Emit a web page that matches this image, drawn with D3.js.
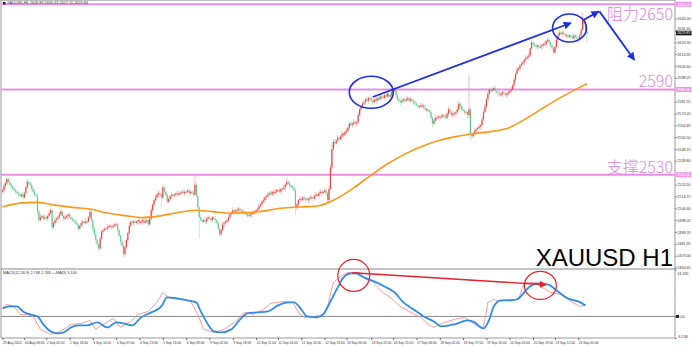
<!DOCTYPE html>
<html>
<head>
<meta charset="utf-8">
<script src="https://cdn.jsdelivr.net/npm/d3@7"></script>
<style>
  body { margin: 0; background: #fff; }
  svg { display: block; font-family: 'Liberation Sans', Arial, sans-serif; }
</style>
</head>
<body>
<div id="chart"></div>
<script>
// XAUUSD H1 closes, one per bar (open = previous close)
const firstOpen = 2518;
const closes = [
  2519,2522,2524,2527,2525,2523,2522,2520,2519,2518,
  2517,2516,2515,2516,2514,2517,2521,2525,2524,2523,
  2520,2518,2516,2515,2504,2498,2500,2501,2499,2500,
  2499,2501,2503,2505,2493,2496,2498,2499,2500,2502,
  2504,2501,2499,2500,2501,2502,2500,2499,2498,2497,
  2496,2495,2492,2494,2496,2497,2496,2497,2497,2500,
  2504,2498,2492,2488,2484,2481,2478,2485,2490,2491,
  2492,2492,2493,2494,2494,2493,2494,2495,2495,2491,
  2487,2483,2480,2474,2479,2484,2489,2494,2497,2496,
  2497,2496,2497,2498,2496,2497,2498,2496,2497,2498,
  2495,2499,2505,2509,2512,2514,2516,2517,2516,2514,
  2521,2518,2516,2511,2513,2515,2516,2515,2516,2517,
  2516,2517,2517,2518,2517,2518,2518,2519,2517,2518,
  2517,2516,2523,2515,2507,2500,2498,2497,2498,2497,
  2499,2500,2499,2498,2500,2499,2498,2496,2492,2488,
  2491,2495,2496,2497,2498,2500,2502,2503,2505,2504,
  2505,2505,2506,2505,2504,2504,2503,2502,2502,2501,
  2502,2503,2503,2504,2505,2506,2508,2509,2511,2512,
  2514,2515,2516,2517,2516,2518,2517,2518,2519,2519,
  2518,2520,2520,2521,2523,2525,2524,2522,2522,2521,
  2519,2507,2509,2512,2513,2512,2514,2513,2513,2512,
  2513,2514,2514,2513,2515,2516,2515,2517,2518,2517,
  2518,2519,2517,2512,2520,2535,2548,2553,2552,2554,
  2556,2555,2557,2559,2558,2560,2561,2563,2566,2565,
  2566,2567,2566,2567,2572,2576,2578,2580,2581,2583,
  2582,2584,2584,2582,2581,2583,2582,2584,2583,2585,
  2585,2584,2586,2585,2587,2585,2586,2588,2589,2590,
  2586,2583,2582,2581,2582,2583,2582,2583,2584,2582,
  2583,2582,2581,2580,2579,2578,2578,2579,2579,2577,
  2576,2576,2575,2574,2570,2566,2568,2570,2570,2571,
  2570,2571,2572,2571,2570,2573,2576,2574,2572,2573,
  2573,2574,2576,2580,2578,2576,2575,2574,2574,2572,
  2576,2558,2557,2559,2561,2562,2563,2564,2565,2569,
  2574,2578,2583,2587,2590,2589,2590,2591,2589,2588,
  2587,2586,2587,2588,2587,2586,2587,2588,2589,2590,
  2593,2597,2601,2604,2605,2607,2608,2609,2611,2612,
  2613,2614,2619,2623,2622,2621,2620,2621,2620,2620,
  2621,2622,2622,2624,2625,2623,2621,2619,2616,2620,
  2625,2628,2630,2629,2630,2629,2628,2628,2627,2628,
  2627,2626,2628,2627,2626,2625,2628,2632,2639,2636,
  2631,2629
];
// wick length above / below the body, in dollars
const wickUp = [
  1,2,1,1,1,2,1,1,2,1, 1,1,2,1,2,1,1,2,1,1, 1,2,1,1,2,1,2,1,1,2, 1,1,2,2,1,1,2,1,1,2,
  2,1,1,2,1,1,1,2,1,1, 1,2,1,1,2,1,1,2,1,1, 1,2,1,1,2,1,1,2,1,1, 1,1,2,1,1,2,1,1,2,1,
  1,1,1,2,1,1,1,2,1,1, 1,2,1,1,2,1,1,1,2,1, 1,1,2,1,1,2,1,2,1,1, 2,1,1,2,1,1,2,1,1,1,
  2,1,1,1,2,1,1,1,2,1, 1,2,7,2,1,1,2,1,1,2, 1,1,2,1,1,1,2,1,1,1, 1,2,1,1,1,2,1,1,2,1,
  1,2,1,1,1,2,1,1,1,2, 1,1,2,1,1,1,2,1,1,2, 1,1,2,1,2,1,1,2,1,1, 2,1,1,2,1,3,1,2,1,1,
  1,2,1,1,2,1,1,2,1,1, 1,2,1,1,1,2,1,1,2,1, 1,1,2,1,2,2,3,2,2,1, 2,1,1,2,1,1,2,1,1,2,
  1,2,1,1,2,1,1,2,1,1, 2,1,1,2,1,1,2,1,1,2, 1,1,2,1,1,2,1,1,1,2, 1,2,1,1,2,1,1,2,1,1,
  2,1,1,2,1,1,1,2,1,1, 2,1,1,1,2,1,1,2,1,1, 1,2,1,1,2,1,2,1,1,2, 1,1,2,2,1,1,2,1,1,1,
  24,2,1,1,2,1,1,2,1,2, 1,2,1,2,1,2,1,1,2,1, 1,2,1,1,2,1,1,2,1,2, 1,2,1,2,1,1,2,1,1,2,
  1,2,1,2,1,1,2,1,1,2, 1,1,2,1,2,1,1,2,1,1, 2,1,2,1,1,2,1,1,2,1, 1,2,1,1,2,1,1,2,5,2,
  1,2
];
const wickDown = [
  1,1,2,1,1,1,2,1,1,2, 1,2,1,1,2,1,1,1,2,1, 2,1,1,1,2,2,1,1,2,1, 1,2,1,1,2,1,1,2,1,1,
  1,1,2,1,1,2,1,1,1,2, 1,1,2,1,1,2,1,1,2,1, 1,1,2,1,2,1,2,1,1,2, 1,1,2,1,1,2,1,1,1,2,
  1,2,1,2,1,1,2,1,1,1, 2,1,1,2,1,1,2,1,1,1, 2,1,1,2,1,1,1,2,1,7, 1,2,1,2,1,1,2,1,1,2,
  1,1,2,1,1,2,1,1,2,1, 1,2,1,1,2,15,1,2,1,1, 2,1,1,2,1,1,2,1,2,2, 1,1,2,1,1,2,1,1,1,2,
  1,1,2,1,1,2,1,1,2,1, 1,2,1,1,2,1,1,1,2,1, 2,1,1,2,1,1,2,1,1,1, 1,2,1,1,2,1,1,2,1,2,
  1,5,2,1,1,2,1,1,2,1, 2,1,1,2,1,1,2,1,1,2, 1,1,2,2,2,1,2,1,2,1, 1,2,1,1,2,1,1,2,1,1,
  2,1,1,2,1,1,2,1,1,2, 1,2,1,1,2,1,1,2,1,1, 2,1,1,2,1,1,2,1,1,1, 2,1,1,2,1,1,2,1,1,2,
  1,1,2,1,1,2,1,1,2,1, 1,2,1,1,2,3,1,1,2,1, 2,1,1,2,1,1,2,1,1,2, 1,2,1,1,2,1,1,2,1,2,
  2,4,2,1,1,2,1,1,2,1, 1,1,2,1,1,2,1,1,2,1, 2,1,1,2,1,1,2,1,1,2, 1,1,2,1,1,2,1,1,2,1,
  1,2,1,1,2,1,1,2,1,1, 2,1,1,2,1,1,2,1,2,1, 1,2,1,1,2,1,1,2,1,1, 2,1,1,2,1,1,2,1,1,2,
  1,6
];

// orange moving average, sampled at bar indices
const maBars = [0,12,24,36,48,60,72,84,96,108,120,132,144,156,168,180,192,204,216,228,240,252,264,276,288,300,312,324,336,348,360,372,384,396,401];
const maValues = [2507.3,2510,2510.5,2508.6,2507,2505.8,2503,2501.2,2499.8,2501,2503.2,2505,2504,2503,2503.3,2504.5,2506.5,2507.3,2508,2512.5,2520,2529,2537.5,2544.5,2550,2554.2,2557,2559,2560.5,2563.3,2570,2577.7,2585,2591.5,2594];

// MACD pane: thin red = MACD, thick blue = signal
const macdBars = [0,3,8,12,17,21,26,33,38,42,47,54,60,64,69,76,81,88,93,100,106,110,115,122,129,134,138,145,152,159,166,172,179,184,193,199,203,207,214,220,223,227,232,237,245,249,254,260,266,273,280,287,292,296,303,310,317,321,326,330,333,337,340,347,354,358,365,369,376,383,390,396,399];
const macdValues = [2.56,3.41,2.84,0.57,0.57,0,-3.69,-5.11,-4.55,-3.69,-2.27,-1.99,-1.14,-3.69,-2.27,-0.57,-3.13,-1.42,0.57,1.42,3.98,6.82,5.11,4.83,4.26,0.57,-3.69,-4.55,-3.69,-1.70,1.14,0.57,1.99,3.69,4.26,3.98,1.14,-0.28,0,0.57,2.84,9.66,11.36,12.50,12.50,10.51,9.94,7.10,5.40,2.84,1.14,-0.28,-2.27,-3.13,-1.70,-0.85,-0.28,-1.42,-2.84,-3.13,3.98,4.83,4.26,4.83,4.83,9.66,9.66,8.52,6.82,6.25,4.26,2.84,3.13];
const signalBars = [0,5,10,14,19,24,28,33,38,42,47,52,58,65,72,78,83,89,95,102,109,113,120,127,133,136,141,145,150,157,163,168,175,182,189,196,200,205,209,216,220,225,230,234,239,242,248,255,262,269,275,282,289,296,301,310,319,324,328,330,334,337,342,349,354,361,367,374,381,388,395,400];
const signalValues = [2.27,2.84,2.84,1.42,0.57,0,-2.27,-4.26,-4.83,-4.55,-3.13,-2.56,-2.56,-1.70,-3.13,-1.70,-1.99,-2.56,-0.28,1.14,2.84,5.40,5.11,4.55,3.98,1.42,-2.27,-4.26,-4.55,-3.69,-0.85,0.85,1.14,1.42,3.13,3.98,3.98,1.99,0,-0.28,0.57,4.26,8.24,11.08,12.22,12.22,11.08,9.94,8.52,6.82,3.98,1.99,0,-1.42,-2.84,-2.27,-1.14,-1.70,-3.13,-3.41,-0.85,2.84,4.55,4.55,5.11,8.24,9.38,9.09,7.10,5.11,4.26,3.13];

// axis labels
const priceTicks = [2464.65,2473.00,2481.35,2489.70,2498.05,2506.40,2514.75,2523.10,2539.80,2548.15,2556.50,2564.85,2573.20,2581.55,2598.25,2606.60,2614.95,2623.30,2631.65,2640.00];
const levels = [2650, 2590, 2530];
const levelLabels = ['阻力2650', '2590', '支撑2530'];
const lastPrice = 2629.83;
const macdTicks = [13.335, 0, -6.136];
const macdTickLabels = ['13.335', '0.00', '-6.136'];
const timeTickBars = [0,15,30,46,62,78,94,110,126,142,158,174,189,205,221,236,253,268,284,300,316,332,348,364,379,395];
const timeLabels = ['29 Aug 2024','30 Aug 08:00','2 Sep 02:00','2 Sep 18:00','3 Sep 14:00','4 Sep 07:00','4 Sep 23:00','5 Sep 16:00','6 Sep 09:00','9 Sep 02:00','9 Sep 18:00','10 Sep 11:00','11 Sep 04:00','11 Sep 20:00','12 Sep 13:00','13 Sep 06:00','13 Sep 22:00','16 Sep 15:00','17 Sep 08:00','18 Sep 01:00','18 Sep 17:00','19 Sep 10:00','20 Sep 03:00','20 Sep 19:00','23 Sep 12:00','24 Sep 05:00'];
const titleText = 'XAUUSD,H1  2628.89 2630.33 2627.70 2629.83';
const macdTitle = 'MACD(12,26,9) 2.748 2.748  ++MA(9) 3.100';

const width = 692, height = 347;
const plotRight = 675;
const axisFont = '3.7px';

const svg = d3.select('#chart').append('svg')
  .attr('width', width)
  .attr('height', height);

const defs = svg.append('defs');
function arrowMarker(id, color, size) {
  defs.append('marker')
    .attr('id', id)
    .attr('viewBox', '0 0 10 10')
    .attr('refX', 9).attr('refY', 5)
    .attr('markerWidth', size).attr('markerHeight', size)
    .attr('markerUnits', 'userSpaceOnUse')
    .attr('orient', 'auto')
    .append('path')
    .attr('d', 'M0,0 L10,5 L0,10 z')
    .attr('fill', color);
}
arrowMarker('blueHead', '#1f2ee0', 8);
arrowMarker('redHead', '#e8202a', 7);

const x = d3.scaleLinear().domain([0, closes.length - 1]).range([2.5, 587]);
const y = d3.scaleLinear().domain([2464.3, 2651.6]).range([268, 2]);
const yMacd = d3.scaleLinear().domain([-6.136, 13.335]).range([338, 269.5]);

// frame
svg.append('line').attr('x1', 1).attr('x2', 1).attr('y1', 0).attr('y2', 338)
  .attr('stroke', '#999').attr('stroke-width', 1);
svg.append('line').attr('x1', plotRight).attr('x2', plotRight).attr('y1', 0).attr('y2', 338)
  .attr('stroke', '#999').attr('stroke-width', 1);
svg.append('line').attr('x1', 1).attr('x2', plotRight).attr('y1', 0.5).attr('y2', 0.5)
  .attr('stroke', '#bbb').attr('stroke-width', 1);
svg.append('line').attr('x1', 1).attr('x2', plotRight).attr('y1', 269).attr('y2', 269)
  .attr('stroke', '#888').attr('stroke-width', 1);

// support / resistance lines
svg.selectAll('.level')
  .data(levels)
  .enter()
  .append('line')
  .attr('class', 'level')
  .attr('x1', 1).attr('x2', plotRight)
  .attr('y1', d => y(d)).attr('y2', d => y(d))
  .attr('stroke', '#e590e5')
  .attr('stroke-width', 2);

// candles
const bars = closes.map((c, i) => {
  const o = i === 0 ? firstOpen : closes[i - 1];
  return { i, o, c, h: Math.max(o, c) + wickUp[i], l: Math.min(o, c) - wickDown[i] };
});
const upColor = '#f03434', downColor = '#46bd7c';

const candle = svg.append('g').selectAll('g')
  .data(bars)
  .enter()
  .append('g');

candle.append('line')
  .attr('x1', d => x(d.i)).attr('x2', d => x(d.i))
  .attr('y1', d => y(d.h)).attr('y2', d => y(d.l))
  .attr('stroke', d => d.c >= d.o ? '#f58a8a' : '#9adbb5')
  .attr('stroke-width', 0.6);

candle.append('rect')
  .attr('x', d => x(d.i) - 0.6)
  .attr('width', 1.2)
  .attr('y', d => y(Math.max(d.o, d.c)))
  .attr('height', d => Math.max(0.8, Math.abs(y(d.o) - y(d.c))))
  .attr('fill', d => d.c >= d.o ? upColor : downColor)
  .attr('opacity', d => d.c >= d.o ? 0.9 : 0.8);

// moving average
svg.append('path')
  .datum(maBars.map((b, k) => [b, maValues[k]]))
  .attr('fill', 'none')
  .attr('stroke', '#ff9616')
  .attr('stroke-width', 1.6)
  .attr('d', d3.line().x(d => x(d[0])).y(d => y(d[1])).curve(d3.curveMonotoneX));

// level labels
svg.selectAll('.levelLabel')
  .data(levels)
  .enter()
  .append('text')
  .attr('class', 'levelLabel')
  .attr('x', 673)
  .attr('y', (d, i) => i === 0 ? y(d) + 16 : y(d) - 2)
  .attr('text-anchor', 'end')
  .style('font-family', "'Noto Sans CJK SC', 'Noto Sans', sans-serif")
  .style('font-weight', 300)
  .style('font-size', '16px')
  .attr('fill', '#dc86dc')
  .text((d, i) => levelLabels[i]);

// price axis
const priceAxis = d3.axisRight(y)
  .tickValues(priceTicks)
  .tickSize(1.5)
  .tickPadding(0.8)
  .tickFormat(d3.format('.2f'));
const pa = svg.append('g').attr('transform', `translate(${plotRight},0)`).call(priceAxis);
pa.select('.domain').remove();
pa.selectAll('line').attr('stroke', '#666');
pa.selectAll('text').style('font-size', axisFont).attr('fill', '#333');
// the tick just above the last price tag sits a little higher
pa.selectAll('.tick').filter(d => Math.abs(y(d) - y(lastPrice)) < 4).select('text').attr('dy', '-0.15em');

// highlighted level tags + current price tag on the axis
const tags = svg.append('g');
levels.forEach(v => {
  tags.append('rect').attr('x', plotRight + 1).attr('y', y(v) - 2.6).attr('width', 15.5).attr('height', 5.2)
    .attr('fill', '#eb98eb');
  tags.append('text').attr('x', plotRight + 2).attr('y', y(v) + 1.4)
    .style('font-size', axisFont).attr('fill', '#fff').text(d3.format('.2f')(v));
});
tags.append('rect').attr('x', plotRight + 1).attr('y', y(lastPrice) - 2.2).attr('width', 15.5).attr('height', 4.6)
  .attr('fill', '#111');
tags.append('text').attr('x', plotRight + 2).attr('y', y(lastPrice) + 1.4)
  .style('font-size', axisFont).attr('fill', '#fff').text(d3.format('.2f')(lastPrice));

// symbol header
svg.append('rect').attr('x', 3).attr('y', 2).attr('width', 2.5).attr('height', 2.5).attr('fill', '#222');
svg.append('text').attr('x', 7).attr('y', 4.4).style('font-size', '3.8px').attr('fill', '#333').text(titleText);

// XAUUSD H1 big label
svg.append('text')
  .attr('x', 673).attr('y', 266)
  .attr('text-anchor', 'end')
  .style('font-size', '24px')
  .attr('fill', '#000')
  .text('XAUUSD H1');

// annotations on price pane
const blue = '#1f2ee0';
svg.append('ellipse').attr('cx', x(253)).attr('cy', y(2588)).attr('rx', 22).attr('ry', 16)
  .attr('fill', 'none').attr('stroke', blue).attr('stroke-width', 1.6);
svg.append('ellipse').attr('cx', x(389)).attr('cy', y(2633.3)).attr('rx', 17).attr('ry', 14)
  .attr('fill', 'none').attr('stroke', blue).attr('stroke-width', 1.6);
svg.append('line')
  .attr('x1', x(254)).attr('y1', y(2584.7))
  .attr('x2', x(390)).attr('y2', y(2636.8))
  .attr('stroke', blue).attr('stroke-width', 1.8)
  .attr('marker-end', 'url(#blueHead)');
svg.append('line')
  .attr('x1', x(398.6)).attr('y1', y(2638.9))
  .attr('x2', x(409)).attr('y2', y(2645))
  .attr('stroke', blue).attr('stroke-width', 1.8)
  .attr('marker-end', 'url(#blueHead)');
svg.append('line')
  .attr('x1', x(409.5)).attr('y1', y(2645))
  .attr('x2', x(433.5)).attr('y2', y(2610.8))
  .attr('stroke', blue).attr('stroke-width', 1.8)
  .attr('marker-end', 'url(#blueHead)');

// MACD pane
svg.append('line').attr('x1', 1).attr('x2', plotRight).attr('y1', yMacd(0)).attr('y2', yMacd(0))
  .attr('stroke', '#888').attr('stroke-width', 1);

svg.append('path')
  .datum(macdBars.map((b, k) => [b, macdValues[k]]))
  .attr('fill', 'none')
  .attr('stroke', '#f59090')
  .attr('stroke-width', 0.9)
  .attr('d', d3.line().x(d => x(d[0])).y(d => yMacd(d[1])));

svg.append('path')
  .datum(signalBars.map((b, k) => [b, signalValues[k]]))
  .attr('fill', 'none')
  .attr('stroke', '#2f8de8')
  .attr('stroke-width', 1.8)
  .attr('d', d3.line().x(d => x(d[0])).y(d => yMacd(d[1])).curve(d3.curveMonotoneX));

const red = '#e8202a';
svg.append('ellipse').attr('cx', x(241)).attr('cy', yMacd(11.64)).attr('rx', 16).attr('ry', 16)
  .attr('fill', 'none').attr('stroke', red).attr('stroke-width', 1.2);
svg.append('ellipse').attr('cx', x(369)).attr('cy', yMacd(8.8)).attr('rx', 16).attr('ry', 14)
  .attr('fill', 'none').attr('stroke', red).attr('stroke-width', 1.2);
svg.append('line')
  .attr('x1', x(240)).attr('y1', yMacd(12.4))
  .attr('x2', x(373)).attr('y2', yMacd(9.0))
  .attr('stroke', red).attr('stroke-width', 1.4)
  .attr('marker-end', 'url(#redHead)');

svg.append('text').attr('x', 3).attr('y', 273.5).style('font-size', '3.8px').attr('fill', '#333').text(macdTitle);

const macdAxis = d3.axisRight(yMacd)
  .tickValues(macdTicks)
  .tickSize(1.5)
  .tickPadding(0.8)
  .tickFormat((d, i) => macdTickLabels[i]);
const ma = svg.append('g').attr('transform', `translate(${plotRight},0)`).call(macdAxis);
ma.select('.domain').remove();
ma.selectAll('line').attr('stroke', '#666');
ma.selectAll('text').style('font-size', axisFont).attr('fill', '#333');
// nudge the top MACD label below the last price label
ma.selectAll('.tick').filter(d => d === macdTicks[0]).select('text').attr('dy', '1.3em');
ma.selectAll('.tick').filter(d => d === macdTicks[2]).select('text').attr('dy', '-0.1em');
svg.append('rect').attr('x', plotRight + 1).attr('y', yMacd(0) - 1.5).attr('width', 3).attr('height', 3).attr('fill', '#222');

// time axis
const timeAxis = d3.axisBottom(x)
  .tickValues(timeTickBars)
  .tickSize(2)
  .tickPadding(1.5)
  .tickFormat((d, i) => timeLabels[i]);
const ta = svg.append('g').attr('transform', 'translate(0,338)').call(timeAxis);
ta.select('.domain').attr('d', `M1,0H${plotRight}`).attr('stroke', '#999');
ta.selectAll('line').attr('stroke', '#666');
ta.selectAll('text').style('font-size', '3.3px').attr('fill', '#333').attr('text-anchor', 'start');
</script>
</body>
</html>
